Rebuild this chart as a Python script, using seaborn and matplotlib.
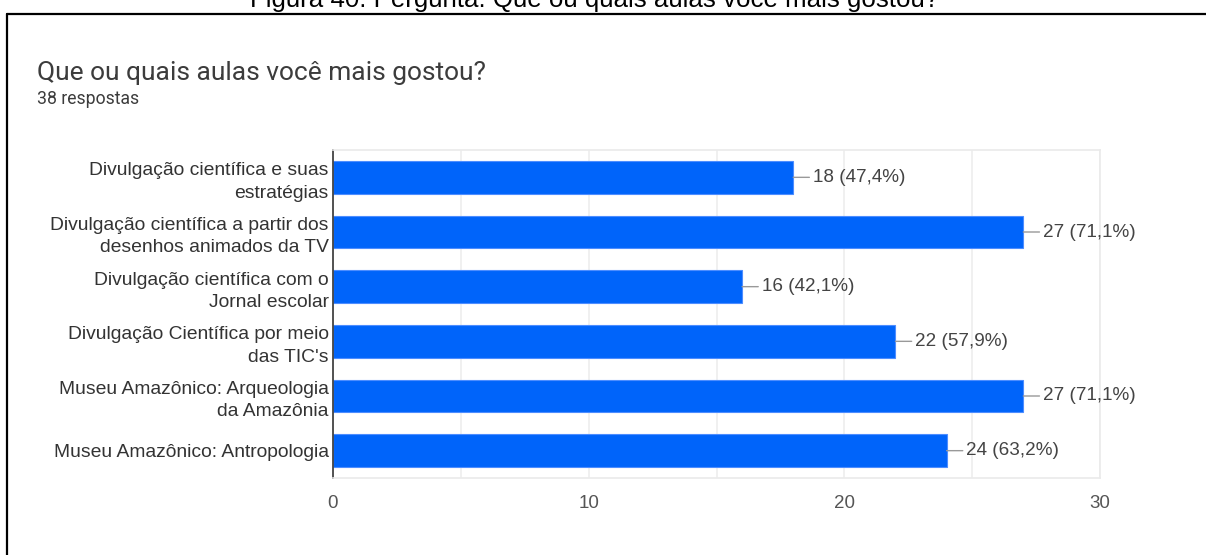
import matplotlib
matplotlib.use("Agg")
import matplotlib.pyplot as plt
from matplotlib.lines import Line2D
import seaborn as sns
import pandas as pd

categories = [
    "Divulgação científica e suas\nestratégias",
    "Divulgação científica a partir dos\ndesenhos animados da TV",
    "Divulgação científica com o\nJornal escolar",
    "Divulgação Científica por meio\ndas TIC's",
    "Museu Amazônico: Arqueologia\nda Amazônia",
    "Museu Amazônico: Antropologia",
]
counts = [18, 27, 16, 22, 27, 24]
percent_labels = ["47,4%", "71,1%", "42,1%", "57,9%", "71,1%", "63,2%"]
x_ticks = [0, 10, 20, 30]
total_responses = 38

df = pd.DataFrame({"aula": categories, "n": counts})

sns.set_theme(style="white")
plt.rcParams["font.family"] = ["Liberation Sans", "DejaVu Sans"]

W, H = 1206, 555
fig = plt.figure(figsize=(W / 100, H / 100), dpi=100)
ax = fig.add_axes([333 / W, 1 - 478 / H, (1100 - 333) / W, (478 - 150) / H])

sns.barplot(data=df, x="n", y="aula", orient="h", color="#0064fa",
            saturation=1, width=0.6, ax=ax, edgecolor="#4d8dff", linewidth=0.8)

ax.set_xlim(0, 30)
ax.set_ylim(5.5, -0.5)
ax.set_xticks(x_ticks)
ax.set_xticks(range(0, 31, 5), minor=True)
ax.grid(True, axis="x", which="both", color="#ededed", linewidth=1.2)
ax.set_axisbelow(True)
ax.set_xlabel("")
ax.set_ylabel("")
ax.tick_params(axis="x", which="both", length=0, pad=12, labelsize=13.5, labelcolor="#555555")
ax.tick_params(axis="y", length=0, pad=3, labelsize=13.9, labelcolor="#333333")
for lbl in ax.get_yticklabels():
    lbl.set_linespacing(1.42)
for side in ["top", "right", "bottom"]:
    ax.spines[side].set_color("#eaeaea")
    ax.spines[side].set_linewidth(1.2)
ax.spines["left"].set_color("#444444")
ax.spines["left"].set_linewidth(1.3)

for i, (v, p) in enumerate(zip(counts, percent_labels)):
    ax.annotate(f"{v} ({p})", xy=(v, i), xytext=(14, 0), textcoords="offset points",
                va="center", ha="left", fontsize=13.6, color="#444444",
                arrowprops=dict(arrowstyle="-", color="#999999", lw=1,
                                shrinkA=0, shrinkB=0))

# header texts
fig.text(37 / W, 1 - 73 / H, "Que ou quais aulas você mais gostou?", fontsize=19,
         family=["Roboto", "DejaVu Sans"], color="#3c3c3c", va="center", ha="left")
fig.text(37 / W, 1 - 99 / H, f"{total_responses} respostas", fontsize=12.7,
         family=["Roboto", "DejaVu Sans"], color="#3c3c3c", va="center", ha="left")
fig.text(595 / W, 1 - 7 / H, "Figura 40: Pergunta: Que ou quais aulas você mais gostou?",
         fontsize=18.6, color="black", va="baseline", ha="center")

# outer frame
fig.add_artist(Line2D([6.5 / W, 1], [1 - 13.5 / H, 1 - 13.5 / H], color="black", lw=1.6,
                      transform=fig.transFigure))
fig.add_artist(Line2D([6.5 / W, 6.5 / W], [1 - 13.5 / H, 0], color="black", lw=1.6,
                      transform=fig.transFigure))

fig.savefig("out.png", dpi=100)
